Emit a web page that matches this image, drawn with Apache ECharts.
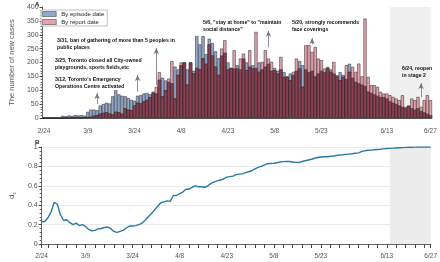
<!DOCTYPE html>
<html>
<head>
<meta charset="utf-8">
<script src="https://cdn.jsdelivr.net/npm/echarts@6/dist/echarts.min.js"></script>
<style>
  html, body { margin: 0; padding: 0; background: #fff; }
  #main { width: 440px; height: 262px; }
</style>
</head>
<body>
<div id="main"></div>
<script>
// dates 2/24 .. 6/27 (2020)
var days = [];
for (var i = 0; i < 125; i++) {
  var dt = new Date(Date.UTC(2020, 1, 24 + i));
  days.push((dt.getUTCMonth() + 1) + '/' + dt.getUTCDate());
}
var shownLabels = ['2/24', '3/9', '3/24', '4/8', '4/23', '5/8', '5/23', '6/13', '6/27'];

// new cases by episode date
var episodeCases = [
  1, 0, 1, 0, 1, 1, 8, 6, 9, 7, 10, 9, 10, 8,
  22, 30, 30, 28, 45, 50, 55, 52, 78, 100, 85, 80, 78, 72, 65,
  62, 80, 82, 88, 90, 85, 95, 88, 138, 145, 135, 130, 125, 185, 175,
  190, 200, 175, 200, 170, 295, 265, 295, 230, 285, 270, 240, 215,
  225, 235, 200, 180, 178, 190, 175, 214, 200, 185, 190, 180, 200, 175, 185, 195, 170,
  180, 170, 175, 165, 150, 160, 155, 170, 205, 190, 175, 165, 170, 150, 160, 170, 165,
  180, 175, 160, 150, 165, 155, 140, 195, 145, 130, 125, 120, 115,
  95, 90, 85, 80, 75, 75, 70, 60, 55, 50, 45, 40, 35, 45, 35, 30, 35, 25, 20, 15, 10
];
// new cases by report date
var reportCases = [
  0, 0, 0, 0, 0, 0, 0, 1, 0, 1, 1, 2, 1, 2,
  3, 4, 8, 10, 15, 18, 20, 16, 12, 22, 20, 15, 35, 30, 28,
  45, 55, 52, 60, 65, 75, 90, 112, 165, 78, 100, 142, 205, 70, 155,
  200, 200, 120, 200, 160, 180, 175, 215, 195, 265, 225, 185, 155,
  250, 280, 175, 180, 244, 178, 214, 232, 172, 244, 178, 310, 166, 202, 244, 214, 202,
  172, 160, 220, 148, 148, 136, 166, 214, 178, 112, 262, 262, 238, 256, 214, 208, 178,
  184, 166, 202, 154, 136, 148, 190, 166, 184, 166, 196, 150, 358,
  148, 118, 118, 112, 94, 88, 88, 82, 76, 70, 64, 82, 40, 42, 70, 64, 76, 40, 64, 82, 64
];
// d_c
var dcValues = [
  0.23, 0.232, 0.27, 0.33, 0.43, 0.41, 0.30, 0.245, 0.25, 0.22, 0.2, 0.215, 0.19, 0.2,
  0.18, 0.15, 0.135, 0.14, 0.155, 0.16, 0.17, 0.175, 0.16, 0.13, 0.12, 0.13, 0.14, 0.165, 0.185,
  0.185, 0.19, 0.2, 0.215, 0.245, 0.28, 0.315, 0.35, 0.39, 0.425, 0.435, 0.445, 0.44, 0.5, 0.5,
  0.52, 0.535, 0.565, 0.565, 0.585, 0.6, 0.59, 0.59, 0.585, 0.6, 0.625, 0.64, 0.65,
  0.66, 0.67, 0.69, 0.695, 0.70, 0.715, 0.72, 0.723, 0.735, 0.745, 0.755, 0.775, 0.79, 0.80, 0.815,
  0.828, 0.83, 0.832, 0.837, 0.845, 0.849, 0.851, 0.85, 0.846, 0.842, 0.84, 0.85, 0.858, 0.866,
  0.874, 0.884, 0.892, 0.897, 0.899, 0.9, 0.904, 0.907, 0.912, 0.917, 0.92, 0.924, 0.927, 0.93,
  0.935, 0.94, 0.953, 0.962, 0.966, 0.968, 0.971, 0.974, 0.977, 0.981, 0.984, 0.986, 0.988,
  0.99, 0.992, 0.994, 0.996, 0.997, 0.998, 0.999, 1.0, 1.0, 1.0, 1.0, 1.0
];
// events: date, arrow from / to (cases)
var eventDates = ['3/12', '3/25', '3/31', '5/6', '5/20', '6/24'];
var arrowFrom = [50, 95, 118, 255, 265, 75];
var arrowTo = [90, 155, 252, 314, 288, 126];
var shadeStart = '6/14', shadeEnd = '6/27';

// where both bars overlap (drawn darker, like the translucent original)
var overlap = episodeCases.map(function (v, i) { return Math.min(v, reportCases[i]); });

var chart = echarts.init(document.getElementById('main'), null, { renderer: 'canvas' });

var labelColor = '#555';
var font = 'Arial';

function xLabelShow(idx, val) { return shownLabels.indexOf(val) >= 0; }
function xTickShow(idx) { return idx % 3 === 2 || idx === 0 || idx === 124; }

var arrows = [];
for (var k = 0; k < eventDates.length; k++) {
  arrows.push([{ coord: [eventDates[k], arrowFrom[k]] }, { coord: [eventDates[k], arrowTo[k]] }]);
}

function note(text, x, y) {
  return {
    type: 'text', left: x, top: y, z: 100,
    style: { text: text, fill: '#111', font: 'bold 5.2px Arial', lineHeight: 7 }
  };
}

var barBorder = { borderColor: '#2a2228', borderWidth: 0.5 };

var option = {
  animation: false,
  textStyle: { fontFamily: font },
  grid: [
    { left: 37, right: 8, top: 7, height: 111 },
    { left: 36, right: 8, top: 147, height: 97 }
  ],
  legend: {
    data: ['By episode date', 'By report date'],
    orient: 'vertical', left: 41, top: 10,
    icon: 'rect', itemWidth: 14, itemHeight: 5, itemGap: 2,
    padding: [1, 3, 1, 1],
    borderColor: '#999', borderWidth: 0.6, backgroundColor: '#fff',
    textStyle: { fontSize: 6, color: '#222', fontFamily: font },
    itemStyle: { borderColor: '#333', borderWidth: 0.5 }
  },
  xAxis: [
    {
      type: 'category', gridIndex: 0, data: days, boundaryGap: true,
      axisLine: { lineStyle: { color: '#444', width: 0.8 } },
      axisTick: { interval: xTickShow, alignWithLabel: true, length: 3, lineStyle: { color: '#444' } },
      axisLabel: { interval: xLabelShow, fontSize: 6.5, color: labelColor, margin: 10 }
    },
    {
      type: 'category', gridIndex: 1, data: days, boundaryGap: false,
      axisLine: { lineStyle: { color: '#444', width: 0.8 } },
      axisTick: { interval: xTickShow, length: 4, lineStyle: { color: '#444' } },
      axisLabel: { interval: xLabelShow, fontSize: 6.5, color: labelColor, margin: 9 }
    }
  ],
  yAxis: [
    {
      type: 'value', gridIndex: 0, min: 0, max: 400, interval: 50,
      name: 'The number of new cases', nameLocation: 'middle', nameGap: 25,
      nameTextStyle: { fontSize: 7.5, color: labelColor },
      axisLine: { show: true, lineStyle: { color: '#444', width: 0.8 } },
      axisTick: { show: true, length: 3 },
      minorTick: { show: true, splitNumber: 5, length: 2, lineStyle: { color: '#666' } },
      splitLine: { show: false },
      axisLabel: { fontSize: 7, color: labelColor, margin: 4 }
    },
    {
      type: 'value', gridIndex: 1, min: 0, max: 1, interval: 0.2,
      name: '{a|d}{b|c}', nameLocation: 'middle', nameGap: 24,
      nameTextStyle: { rich: { a: { fontSize: 8, color: labelColor }, b: { fontSize: 5, color: labelColor, padding: [5, 0, 0, 0] } } },
      axisLine: { show: true, lineStyle: { color: '#444', width: 0.8 } },
      axisTick: { show: true, length: 3 },
      minorTick: { show: true, splitNumber: 5, length: 2, lineStyle: { color: '#666' } },
      splitLine: { show: true, lineStyle: { color: '#e6e6e6', width: 0.8 } },
      axisLabel: { fontSize: 7, color: labelColor, margin: 4 }
    }
  ],
  series: [
    {
      name: 'By episode date', type: 'bar', xAxisIndex: 0, yAxisIndex: 0,
      data: episodeCases, barGap: '-100%', barCategoryGap: '0%',
      itemStyle: Object.assign({ color: '#91a9ca' }, barBorder)
    },
    {
      name: 'By report date', type: 'bar', xAxisIndex: 0, yAxisIndex: 0,
      data: reportCases, barGap: '-100%', barCategoryGap: '0%',
      itemStyle: Object.assign({ color: '#e4a3ab' }, barBorder)
    },
    {
      name: 'overlap', type: 'bar', xAxisIndex: 0, yAxisIndex: 0,
      data: overlap, barGap: '-100%', barCategoryGap: '0%',
      itemStyle: Object.assign({ color: '#8e4052' }, barBorder),
      markLine: {
        silent: true, symbol: ['none', 'arrow'], symbolSize: [4, 6],
        label: { show: false },
        lineStyle: { color: '#777', width: 0.8, type: 'solid' },
        data: arrows
      }
    },
    {
      type: 'line', xAxisIndex: 0, yAxisIndex: 0, data: [], z: 5,
      markArea: {
        silent: true,
        itemStyle: { color: 'rgba(228,228,228,0.55)' },
        data: [[{ xAxis: shadeStart }, { xAxis: shadeEnd }]]
      }
    },
    {
      type: 'line', xAxisIndex: 1, yAxisIndex: 1, data: [], z: 1,
      markArea: {
        silent: true,
        itemStyle: { color: '#ececec' },
        data: [[{ xAxis: shadeStart }, { xAxis: shadeEnd }]]
      }
    },
    {
      type: 'line', xAxisIndex: 1, yAxisIndex: 1, data: dcValues, z: 3,
      showSymbol: false, lineStyle: { color: '#2a7aa6', width: 1.4 }
    }
  ],
  graphic: [
    { type: 'text', left: 35, top: 1, style: { text: 'A', font: 'bold 6px Arial', fill: '#111' } },
    { type: 'text', left: 35, top: 139, style: { text: 'B', font: 'bold 6px Arial', fill: '#111' } },
    note('3/31, ban of gathering of more than 5 peoples in\npublic places', 57, 37),
    note('3/25, Toronto closed all City-owned\nplaygrounds, sports fields,etc', 55, 57),
    note("3/12, Toronto's Emergency\nOperations Centre activated", 55, 76),
    note('5/6, "stay at home" to "maintain\nsocial distance"', 203, 19),
    note('5/20, strongly recommends\nface coverings', 292, 19),
    note('6/24, reopen\nin stage 2', 402, 65)
  ]
};
chart.setOption(option);
</script>
</body>
</html>
